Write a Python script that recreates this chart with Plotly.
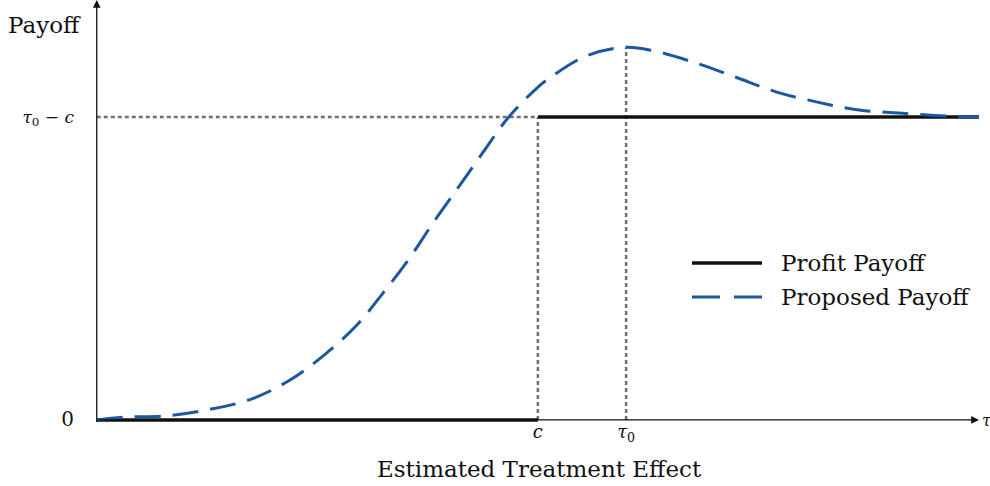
import plotly.graph_objects as go

# ---- data ----
tau_vals = [0.0, 0.294, 0.804, 1.280, 1.752, 2.186, 2.563, 2.941, 3.242, 3.545, 3.809,
            4.092, 4.375, 4.658, 4.998, 5.130, 5.546, 5.999, 6.300, 6.792, 7.245,
            7.698, 8.169, 8.641, 9.131, 9.623, 10.0]
proposed_payoff = [0.0, 0.009, 0.014, 0.035, 0.069, 0.131, 0.211, 0.311, 0.418, 0.534, 0.649,
                   0.765, 0.882, 0.996, 1.098, 1.128, 1.201, 1.230, 1.219, 1.178, 1.131,
                   1.083, 1.049, 1.023, 1.012, 1.003, 1.0]
profit_x = [0.0, 5.0, None, 5.0, 10.0]
profit_y = [0.0, 0.0, None, 1.0, 1.0]
c_val = 5.0
tau0_val = 6.0
level_val = 1.0       # tau0 - c
peak_val = 1.230
x_tick_vals = [5.0, 6.0]
x_tick_text = ["<i>c</i>", "<i>τ</i><sub>0</sub>"]
y_tick_vals = [0.0, 1.0]
y_tick_text = ["<span style='font-size:20px'>0</span>", "<i>τ</i><sub>0</sub> − <i>c</i>"]
legend_names = ["Profit Payoff", "Proposed Payoff"]

BLUE = "#1b58a0"
GREY = "#707070"
FONT = "DejaVu Serif"
X_MIN, X_MAX = -0.02, 10.0
Y_MIN, Y_MAX = -0.01, 1.386

W, H = 990, 486
# plot area chosen so that x=0 -> 97px, x=10 -> 979px, y=0 -> 420px, y=1.386 -> 0px
PX_PER_X = (979 - 97) / 10.0
PX_PER_Y = 420 / 1.386
L = round(97 + X_MIN * PX_PER_X)
R = W - 979
T = 0
B = round(H - 420 + Y_MIN * PX_PER_Y)
PW, PH = W - L - R, H - T - B


def px_x(p):
    return (p - L) / PW


def px_y(p):  # p measured from top of image
    return (H - p - B) / PH


fig = go.Figure()

# dotted guide lines
guide = dict(color=GREY, width=2.5, dash="4px,3px")
fig.add_shape(type="line", x0=0, x1=c_val, y0=level_val, y1=level_val, line=guide, layer="below")
fig.add_shape(type="line", x0=c_val, x1=c_val, y0=0, y1=level_val, line=guide, layer="below")
fig.add_shape(type="line", x0=tau0_val, x1=tau0_val, y0=0, y1=peak_val, line=guide, layer="below")

fig.add_trace(go.Scatter(x=profit_x, y=profit_y, mode="lines", name=legend_names[0],
                         line=dict(color="#111111", width=3.5), showlegend=False))
fig.add_trace(go.Scatter(x=tau_vals, y=proposed_payoff, mode="lines", name=legend_names[1],
                         line=dict(color=BLUE, width=3, dash="26px,12px", shape="spline"),
                         showlegend=False))

# axes arrows
fig.add_annotation(x=X_MAX, y=0, ax=0, ay=0, axref="x", ayref="y", xref="x", yref="y",
                   text="", showarrow=True, arrowhead=2, arrowsize=1.2, arrowwidth=1.3,
                   arrowcolor="#111111")
fig.add_annotation(x=0, y=Y_MAX, ax=0, ay=-0.012, axref="x", ayref="y", xref="x", yref="y",
                   text="", showarrow=True, arrowhead=2, arrowsize=1.2, arrowwidth=1.3,
                   arrowcolor="#111111")

# axis end label tau
fig.add_annotation(x=px_x(980), y=px_y(420), xref="paper", yref="paper", text="<i>τ</i>",
                   showarrow=False, xanchor="left", yanchor="middle",
                   font=dict(family=FONT, size=16, color="#111111"))

# Payoff label
fig.add_annotation(x=px_x(44), y=px_y(25), xref="paper", yref="paper", text="Payoff",
                   showarrow=False, xanchor="center", yanchor="middle",
                   font=dict(family=FONT, size=23, color="#111111"))

# manual legend
legend_rows = [263, 297]
fig.add_shape(type="line", xref="paper", yref="paper", x0=px_x(692), x1=px_x(762),
              y0=px_y(legend_rows[0]), y1=px_y(legend_rows[0]),
              line=dict(color="#111111", width=3.5))
fig.add_shape(type="line", xref="paper", yref="paper", x0=px_x(692), x1=px_x(762),
              y0=px_y(legend_rows[1]), y1=px_y(legend_rows[1]),
              line=dict(color=BLUE, width=3, dash="28px,14px"))
for name, row in zip(legend_names, legend_rows):
    fig.add_annotation(x=px_x(779), y=px_y(row), xref="paper", yref="paper", text=name,
                       showarrow=False, xanchor="left", yanchor="middle",
                       font=dict(family=FONT, size=23, color="#111111"))

# x-axis title
fig.add_annotation(x=px_x(539), y=px_y(469), xref="paper", yref="paper",
                   text="Estimated Treatment Effect", showarrow=False,
                   xanchor="center", yanchor="middle",
                   font=dict(family=FONT, size=23, color="#111111"))

fig.update_layout(
    width=W, height=H,
    margin=dict(l=L, r=R, t=T, b=B, autoexpand=False),
    plot_bgcolor="white", paper_bgcolor="white",
    showlegend=False,
    xaxis=dict(range=[X_MIN, X_MAX], showgrid=False, zeroline=False, showline=False,
               automargin=False, fixedrange=True,
               tickvals=x_tick_vals, ticktext=x_tick_text, ticks="",
               ticklabelstandoff=-4,
               tickfont=dict(family=FONT, size=18, color="#111111")),
    yaxis=dict(range=[Y_MIN, Y_MAX], showgrid=False, zeroline=False, showline=False,
               automargin=False, fixedrange=True,
               tickvals=y_tick_vals, ticktext=y_tick_text, ticks="",
               ticklabelstandoff=20,
               tickfont=dict(family=FONT, size=17, color="#111111")),
)

fig.write_html("out.html", config={"displayModeBar": False})

# remove the default page margin so the figure sits at the window's top-left corner
with open("out.html", "r", encoding="utf-8") as f:
    html = f.read()
html = html.replace("<head>", "<head><style>html,body{margin:0;padding:0;overflow:hidden;}</style>", 1)
with open("out.html", "w", encoding="utf-8") as f:
    f.write(html)
